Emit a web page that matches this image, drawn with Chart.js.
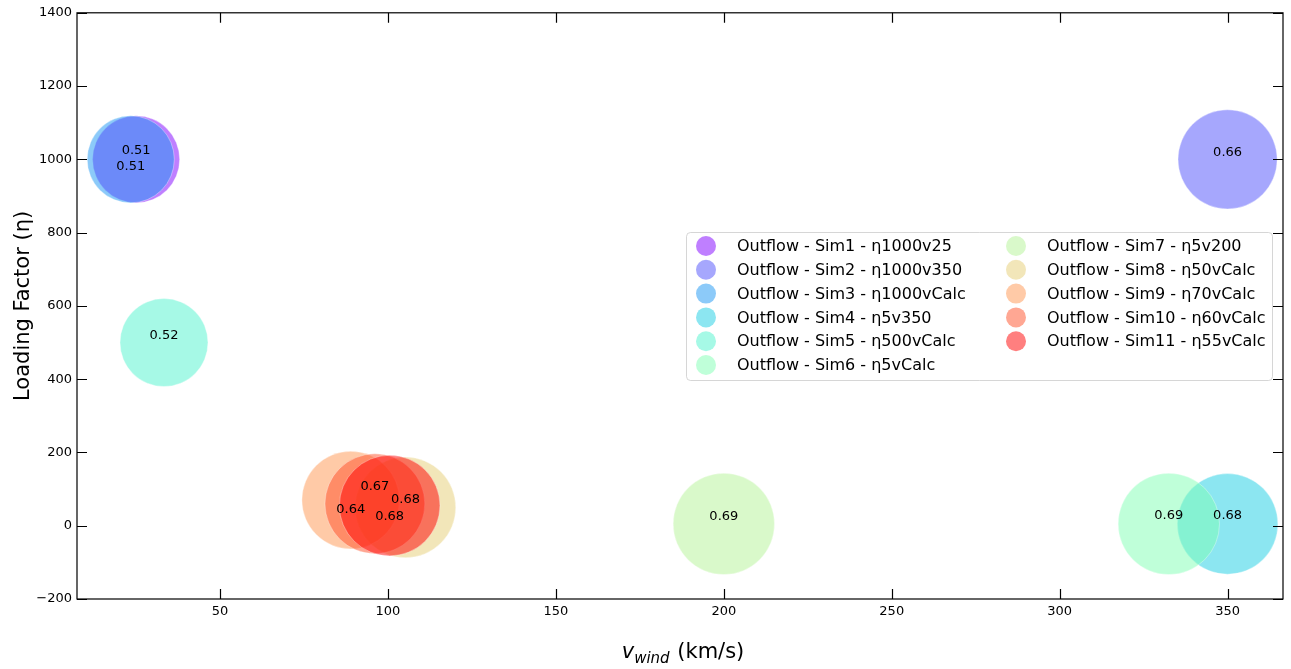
<!DOCTYPE html>
<html>
<head>
<meta charset="utf-8">
<title>Outflow loading factor vs wind velocity</title>
<script src="https://cdn.jsdelivr.net/npm/chart.js@4"></script>
<style>
  html, body { margin: 0; padding: 0; background: #fff; }
  canvas { display: block; }
</style>
</head>
<body>
<canvas id="outflowChart" width="1291" height="669"></canvas>
<script>
"use strict";

// one entry per simulation run
const runLabels = [
    'Outflow - Sim1 - η1000v25',
    'Outflow - Sim2 - η1000v350',
    'Outflow - Sim3 - η1000vCalc',
    'Outflow - Sim4 - η5v350',
    'Outflow - Sim5 - η500vCalc',
    'Outflow - Sim6 - η5vCalc',
    'Outflow - Sim7 - η5v200',
    'Outflow - Sim8 - η50vCalc',
    'Outflow - Sim9 - η70vCalc',
    'Outflow - Sim10 - η60vCalc',
    'Outflow - Sim11 - η55vCalc'
];
const vWind = [25, 350, 23.4, 350, 33.3, 332.5, 200, 105.2, 88.9, 96.1, 100.5];
const loadingFactor = [1000, 1000, 1000, 5, 500, 5, 5, 50, 70, 60, 55];
const bubbleValues = [0.51, 0.66, 0.51, 0.68, 0.52, 0.69, 0.69, 0.68, 0.64, 0.67, 0.68];

const xTicks = [50, 100, 150, 200, 250, 300, 350];
const yTicks = [-200, 0, 200, 400, 600, 800, 1000, 1200, 1400];

// matplotlib "rainbow" colormap sampled over the runs
function rainbow(t) {
    const r = Math.min(1, Math.abs(2 * t - 0.5));
    const g = Math.sin(Math.PI * t);
    const b = Math.cos(Math.PI * t / 2);
    return [r, g, b].map(c => Math.round(c * 255));
}
const colors = runLabels.map((_, i) => {
    const c = rainbow(i / (runLabels.length - 1));
    return 'rgba(' + c[0] + ',' + c[1] + ',' + c[2] + ',0.5)';
});

// small pixel nudges so overlapping annotations stay readable
const labelNudge = [[0, -9], [0, -7], [0, 7], [0, -8], [0, -7], [0, -8], [0, -7], [0, -8], [0, 10], [0, -17], [0, 11]];

const FONT = '"DejaVu Sans", "Liberation Sans", sans-serif';
const radiusFor = v => 61 * Math.sqrt(v);

const datasets = runLabels.map((label, i) => ({
    label: label,
    data: [{ x: vWind[i], y: loadingFactor[i], r: radiusFor(bubbleValues[i]) }],
    backgroundColor: colors[i],
    borderColor: 'rgba(255,255,255,0.35)',
    borderWidth: 1,
    order: runLabels.length - i
}));

const decorations = {
    id: 'decorations',
    afterDatasetsDraw(chart) {
        const ctx = chart.ctx;
        const area = chart.chartArea;
        const xs = chart.scales.x;
        const ys = chart.scales.y;

        // value annotations
        ctx.save();
        ctx.fillStyle = '#000';
        ctx.font = '13px ' + FONT;
        ctx.textAlign = 'center';
        ctx.textBaseline = 'middle';
        bubbleValues.forEach((v, i) => {
            const px = xs.getPixelForValue(vWind[i]) + labelNudge[i][0];
            const py = ys.getPixelForValue(loadingFactor[i]) + labelNudge[i][1];
            ctx.fillText(v.toFixed(2), px, py);
        });
        ctx.restore();

        // frame and inward ticks on all sides
        ctx.save();
        ctx.strokeStyle = '#000';
        ctx.lineWidth = 1.2;
        ctx.strokeRect(area.left, area.top, area.right - area.left, area.bottom - area.top);
        ctx.beginPath();
        xs.ticks.forEach(t => {
            const px = Math.round(xs.getPixelForValue(t.value)) + 0.5;
            ctx.moveTo(px, area.bottom); ctx.lineTo(px, area.bottom - 10);
            ctx.moveTo(px, area.top); ctx.lineTo(px, area.top + 10);
        });
        ys.ticks.forEach(t => {
            const py = Math.round(ys.getPixelForValue(t.value)) + 0.5;
            ctx.moveTo(area.left, py); ctx.lineTo(area.left + 10, py);
            ctx.moveTo(area.right, py); ctx.lineTo(area.right - 10, py);
        });
        ctx.stroke();
        ctx.restore();

        // axis titles
        ctx.save();
        ctx.fillStyle = '#000';
        ctx.textBaseline = 'alphabetic';
        ctx.textAlign = 'left';
        const big = '21px ' + FONT;
        const sub = 'italic 15px ' + FONT;
        const it = 'italic 21px ' + FONT;
        ctx.font = it; const wV = ctx.measureText('v').width;
        ctx.font = sub; const wSub = ctx.measureText('wind').width;
        ctx.font = big; const wRest = ctx.measureText(' (km/s)').width;
        let tx = (area.left + area.right) / 2 + 3 - (wV + wSub + 1 + wRest) / 2;
        const ty = 658;
        ctx.font = it; ctx.fillText('v', tx, ty); tx += wV;
        ctx.font = sub; ctx.fillText('wind', tx, ty + 5); tx += wSub + 1;
        ctx.font = big; ctx.fillText(' (km/s)', tx, ty);

        ctx.translate(28.5, (area.top + area.bottom) / 2);
        ctx.rotate(-Math.PI / 2);
        ctx.textAlign = 'center';
        ctx.font = big;
        ctx.fillText('Loading Factor (η)', 0, 0);
        ctx.restore();

        // two-column legend
        ctx.save();
        const box = { x: 686, y: 232, w: 586, h: 148 };
        ctx.fillStyle = 'rgba(255,255,255,0.8)';
        ctx.strokeStyle = 'rgba(204,204,204,0.8)';
        ctx.lineWidth = 1;
        ctx.beginPath();
        ctx.roundRect(box.x + 0.5, box.y + 0.5, box.w, box.h, 4);
        ctx.fill();
        ctx.stroke();
        ctx.font = '16px ' + FONT;
        ctx.textBaseline = 'middle';
        ctx.textAlign = 'left';
        runLabels.forEach((label, i) => {
            const col = i < 6 ? 0 : 1;
            const row = i < 6 ? i : i - 6;
            const mx = col === 0 ? 706 : 1016;
            const my = 246 + row * 23.8;
            ctx.fillStyle = colors[i];
            ctx.beginPath();
            ctx.arc(mx, my, 10, 0, Math.PI * 2);
            ctx.fill();
            ctx.fillStyle = '#000';
            ctx.fillText(label, mx + 31, my + 1);
        });
        ctx.restore();
    }
};

new Chart('outflowChart', {
    type: 'bubble',
    data: { datasets: datasets },
    options: {
        responsive: false,
        animation: false,
        events: [],
        layout: { autoPadding: false, padding: { left: 0, top: 12, right: 8, bottom: 0 } },
        plugins: {
            legend: { display: false },
            tooltip: { enabled: false }
        },
        scales: {
            x: {
                type: 'linear',
                min: 7.4,
                max: 366.5,
                afterBuildTicks: scale => { scale.ticks = xTicks.map(v => ({ value: v })); },
                afterFit: scale => { scale.height = 70; },
                grid: { display: false, drawTicks: false },
                border: { display: false },
                ticks: {
                    color: '#000',
                    padding: 5,
                    font: { family: FONT, size: 13 }
                }
            },
            y: {
                type: 'linear',
                min: -200,
                max: 1400,
                afterBuildTicks: scale => { scale.ticks = yTicks.map(v => ({ value: v })); },
                afterFit: scale => { scale.width = 77; },
                grid: { display: false, drawTicks: false },
                border: { display: false },
                ticks: {
                    color: '#000',
                    padding: 5,
                    font: { family: FONT, size: 13 },
                    callback: v => v < 0 ? '\u2212' + Math.abs(v) : String(v)
                }
            }
        }
    },
    plugins: [decorations]
});
</script>
</body>
</html>
